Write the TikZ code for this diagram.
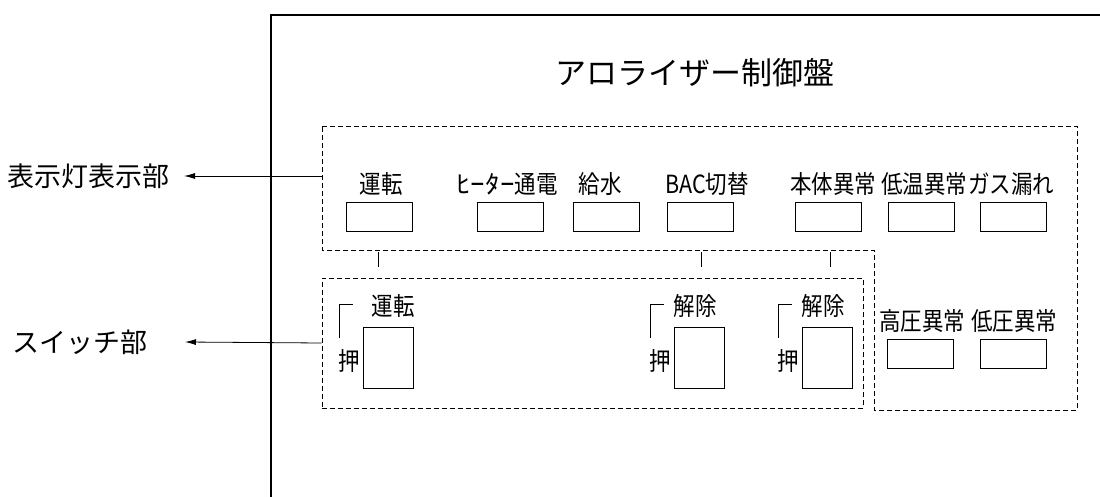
\documentclass[tikz,border=0pt]{standalone}
\usepackage{fontspec}
\setmainfont{Noto Sans CJK JP}
\newfontfamily\condjp[FakeStretch=0.86]{Noto Sans CJK JP}
\usetikzlibrary{arrows.meta}

\tikzset{
  zone/.style={draw, dash pattern=on 5pt off 3pt, line width=0.8pt},
  lamp/.style={draw, line width=0.9pt, minimum width=66pt, minimum height=29pt, inner sep=0pt},
  swbox/.style={draw, line width=0.9pt, minimum width=50pt, minimum height=61pt, inner sep=0pt},
  lbl/.style={font=\condjp\fontsize{25}{27}\selectfont, inner sep=0pt},
  side/.style={font=\fontsize{27}{29}\selectfont, inner sep=0pt},
  pointer/.style={line width=0.8pt, -{Latex[length=11pt,width=6pt]}},
}

\begin{document}
\begin{tikzpicture}[x=1pt, y=-1pt]
\useasboundingbox (0,0) rectangle (1100,497);
\clip (0,0) rectangle (1100,497);
% panel frame
\draw[line width=1.6pt] (271,510) -- (271,15) -- (1110,15);
\node[font=\fontsize{31}{33}\selectfont, inner sep=0pt] (title) at (695,73) {アロライザー制御盤};
% display lamps zone
\draw[zone] (322,126) -- (1077,126) -- (1077,410) -- (874,410) -- (874,250) -- (322,250) -- cycle;
\coordinate (dispin) at (322,176);
% switch zone
\node[zone, minimum width=541pt, minimum height=130pt, inner sep=0pt] (swzone) at (592.5,343) {};
% ticks between zones
\foreach \tx in {378,701,830}
  \draw[line width=0.8pt] (\tx,252) -- (\tx,267);
% lamps
\foreach \n/\lx/\bx/\txt in {a/381/379/運転, b/507/510/\scalebox{1.35}[1]{ﾋｰﾀｰ}通電, c/600/606/給水, d/707/700/BAC切替,
    e/833/828/本体異常, f/924/921/低温異常, g/1011/1013/ガス漏れ} {
  \node[lbl] (t\n) at (\lx,184) {\txt};
  \node[lamp] (l\n) at (\bx,216.5) {};
}
\node[lbl] (th) at (922,321) {高圧異常};
\node[lamp] (lh) at (920.5,353.5) {};
\node[lbl] (ti) at (1014,321) {低圧異常};
\node[lamp] (li) at (1013,353.5) {};
% push switches
\foreach \n/\sx/\tx/\txt in {1/388/393/運転, 2/699/695/解除, 3/827/823/解除} {
  \node[swbox] (s\n) at (\sx,357.5) {};
  \node[lbl] (st\n) at (\tx,306) {\txt};
  \node[lbl, anchor=east] (p\n) at ([xshift=-2pt, yshift=-3.5pt]s\n.west) {押};
  \draw[line width=0.8pt] ([xshift=-23pt, yshift=20pt]s\n.west) |- ([xshift=-10pt, yshift=22pt]s\n.north west);
}
% section labels
\node[side, anchor=east] (displabel) at (170,176) {表示灯表示部};
\node[side, anchor=west] (swlabel) at (12,342) {スイッチ部};
\draw[pointer] (dispin) -- ([xshift=14pt]displabel.east);
\draw[pointer] (swzone.west) -- (185,342);
\end{tikzpicture}
\end{document}
